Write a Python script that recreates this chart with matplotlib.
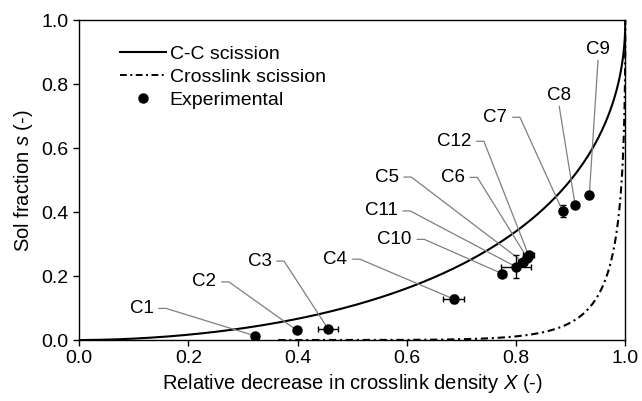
import numpy as np
import matplotlib
matplotlib.use("Agg")
import matplotlib.pyplot as plt
from matplotlib.lines import Line2D

plt.rcParams["font.family"] = ["Liberation Sans", "DejaVu Sans"]
plt.rcParams["mathtext.fontset"] = "custom"
plt.rcParams["mathtext.rm"] = "Liberation Sans"
plt.rcParams["mathtext.it"] = "Liberation Sans:italic"

# Experimental samples
samples = ["C1", "C2", "C3", "C4", "C5", "C6", "C7", "C8", "C9", "C10", "C11", "C12"]
crosslink_decrease = [0.322, 0.398, 0.456, 0.686, 0.812, 0.820, 0.885, 0.908, 0.934, 0.774, 0.800, 0.823]
sol_fraction = [0.013, 0.031, 0.034, 0.128, 0.245, 0.258, 0.404, 0.424, 0.453, 0.208, 0.229, 0.265]
x_err = [0.0, 0.0, 0.018, 0.019, 0.008, 0.008, 0.006, 0.0, 0.0, 0.008, 0.028, 0.010]
s_err = [0.0, 0.0, 0.006, 0.013, 0.010, 0.010, 0.020, 0.0, 0.0, 0.012, 0.036, 0.010]

# Label anchors (start of the leader line), in data units
label_x = [0.146, 0.261, 0.362, 0.501, 0.595, 0.716, 0.794, 0.879, 0.950, 0.619, 0.593, 0.728]
label_y = [0.099, 0.182, 0.247, 0.253, 0.510, 0.509, 0.697, 0.731, 0.875, 0.315, 0.404, 0.622]
label_above = [False] * 7 + [True, True] + [False] * 3

# Horikx model parameters
cc_exponent = 0.55      # sol-fraction exponent for main-chain (C-C) scission
gamma_initial = 18.0    # initial crosslinks per chain for crosslink scission

s = np.linspace(1e-5, 0.9999, 4000)
x_cc = 1 - (1 - s ** cc_exponent) ** 2
gamma_f = -np.log(s) / (1 - s)
x_xl = 1 - gamma_f * (1 - np.sqrt(s)) ** 2 / gamma_initial
keep = x_xl >= 0

fig = plt.figure(figsize=(6.42, 4.01), dpi=100)
ax = fig.add_axes([0.1235, 0.152, 0.8505, 0.797])

ax.plot(x_cc, s, color="black", lw=1.5, zorder=3)
xl_line, = ax.plot(x_xl[keep], s[keep], color="black", lw=1.5, zorder=3.5,
                   clip_on=False)
xl_line.set_dashes((3.5, 1.8, 1.0, 1.8))

ax.errorbar(crosslink_decrease, sol_fraction, xerr=x_err, yerr=s_err, fmt="o",
            color="black", ms=6.5, elinewidth=1.0, capsize=2.5, capthick=1.0,
            zorder=4)

dash = 0.013
for name, px, py, lx, ly, above in zip(samples, crosslink_decrease, sol_fraction,
                                        label_x, label_y, label_above):
    if above:
        ax.plot([lx, px], [ly, py], color="#7f7f7f", lw=0.9, zorder=3)
        ax.annotate(name, (lx, ly), xytext=(0, 2), textcoords="offset points",
                    ha="center", va="bottom", fontsize=13.5)
    else:
        ax.plot([lx, lx + dash, px], [ly, ly, py], color="#7f7f7f", lw=0.9, zorder=3)
        ax.annotate(name, (lx, ly), xytext=(-4, 0), textcoords="offset points",
                    ha="right", va="center", fontsize=13.5)

ax.set_xlim(0, 1)
ax.set_ylim(0, 1)
ax.set_xticks(np.arange(0, 1.01, 0.2))
ax.set_yticks(np.arange(0, 1.01, 0.2))
ax.xaxis.set_major_formatter(matplotlib.ticker.FormatStrFormatter("%.1f"))
ax.yaxis.set_major_formatter(matplotlib.ticker.FormatStrFormatter("%.1f"))
ax.tick_params(direction="out", length=4.5, width=1.0, labelsize=14, pad=3)
ax.tick_params(top=False, right=False)
for sp in ax.spines.values():
    sp.set_linewidth(1.0)
    sp.set_zorder(2.5)

ax.set_xlabel(r"Relative decrease in crosslink density $X$ (-)", fontsize=14.5, labelpad=3)
ax.set_ylabel(r"Sol fraction $s$ (-)", fontsize=14.5, labelpad=5)

cc_handle = Line2D([], [], color="black", lw=1.5)
xl_handle = Line2D([], [], color="black", lw=1.4, dashes=(3.5, 1.8, 1.0, 1.8))
exp_handle = Line2D([], [], color="black", ls="none", marker="o", ms=6.5)
ax.legend([cc_handle, xl_handle, exp_handle],
          ["C-C scission", "Crosslink scission", "Experimental"],
          loc="upper left", bbox_to_anchor=(0.074, 0.923),
          frameon=False, fontsize=14, handlelength=2.37, handletextpad=0.2,
          labelspacing=0.29, borderpad=0, borderaxespad=0)

fig.savefig("out.png", dpi=100)
